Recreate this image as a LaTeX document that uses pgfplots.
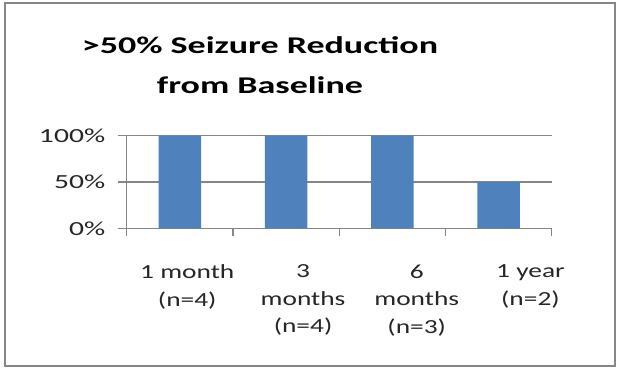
\documentclass[border=0pt]{standalone}
\usepackage{pgfplots}
\pgfplotsset{compat=1.18}
\usepackage{fontspec}
\setmainfont{Carlito}
\newfontfamily\titlefont{Carlito}[FakeStretch=1.5]
\newfontfamily\tickfont{Carlito}[FakeStretch=1.37]
\newfontfamily\ytickfont{Carlito}[FakeStretch=1.48]
\definecolor{barblue}{HTML}{4F81BD}
\definecolor{framegray}{HTML}{868686}
\definecolor{gridgray}{HTML}{868686}
\begin{document}
\begin{tikzpicture}
\path[use as bounding box] (0pt,0pt) rectangle (623pt,369pt);
\draw[framegray, line width=1.6pt] (5pt,3pt) rectangle (615pt,366pt);
\node[font=\titlefont\bfseries\fontsize{24}{40}\selectfont, align=center] at (260pt,304pt) {>50\% Seizure Reduction\\from Baseline};
\begin{axis}[
  at={(126.7pt,140.7pt)}, anchor=south west,
  scale only axis, width=425pt, height=92.6pt,
  xmin=-0.5, xmax=3.5, ymin=0, ymax=100,
  axis x line=bottom, axis y line=left,
  axis line style={-, gridgray, line width=1.3pt},
  ytick={0,50,100}, yticklabels={0\%,50\%,100\%},
  ymajorgrids, grid style={gridgray, line width=1.3pt},
  tick align=outside,
  ytick style={gridgray, line width=1.3pt},
  major tick length=9pt,
  yticklabel style={font=\ytickfont\fontsize{20}{24}\selectfont, text=black!85, anchor=east, xshift=-9pt},
  xtick={0.07,1.16,2.23,3.3},
  xticklabels={{1 month\\(n=4)},{3\\months\\(n=4)},{6\\months\\(n=3)},{1 year\\(n=2)}},
  xtick style={draw=none},
  xticklabel style={font=\tickfont\fontsize{20}{27.5}\selectfont, text=black!85, align=center, anchor=north, yshift=-24pt},
  extra x ticks={-0.5,0.5,1.5,2.5,3.5},
  extra x tick labels={},
  extra x tick style={xtick style={draw=gridgray, line width=1.3pt}, major tick length=8pt},
]
\addplot[ybar, bar width=42.5pt, fill=barblue, draw=none] coordinates {(0,100) (1,100) (2,100) (3,50)};
\end{axis}
\end{tikzpicture}
\end{document}
